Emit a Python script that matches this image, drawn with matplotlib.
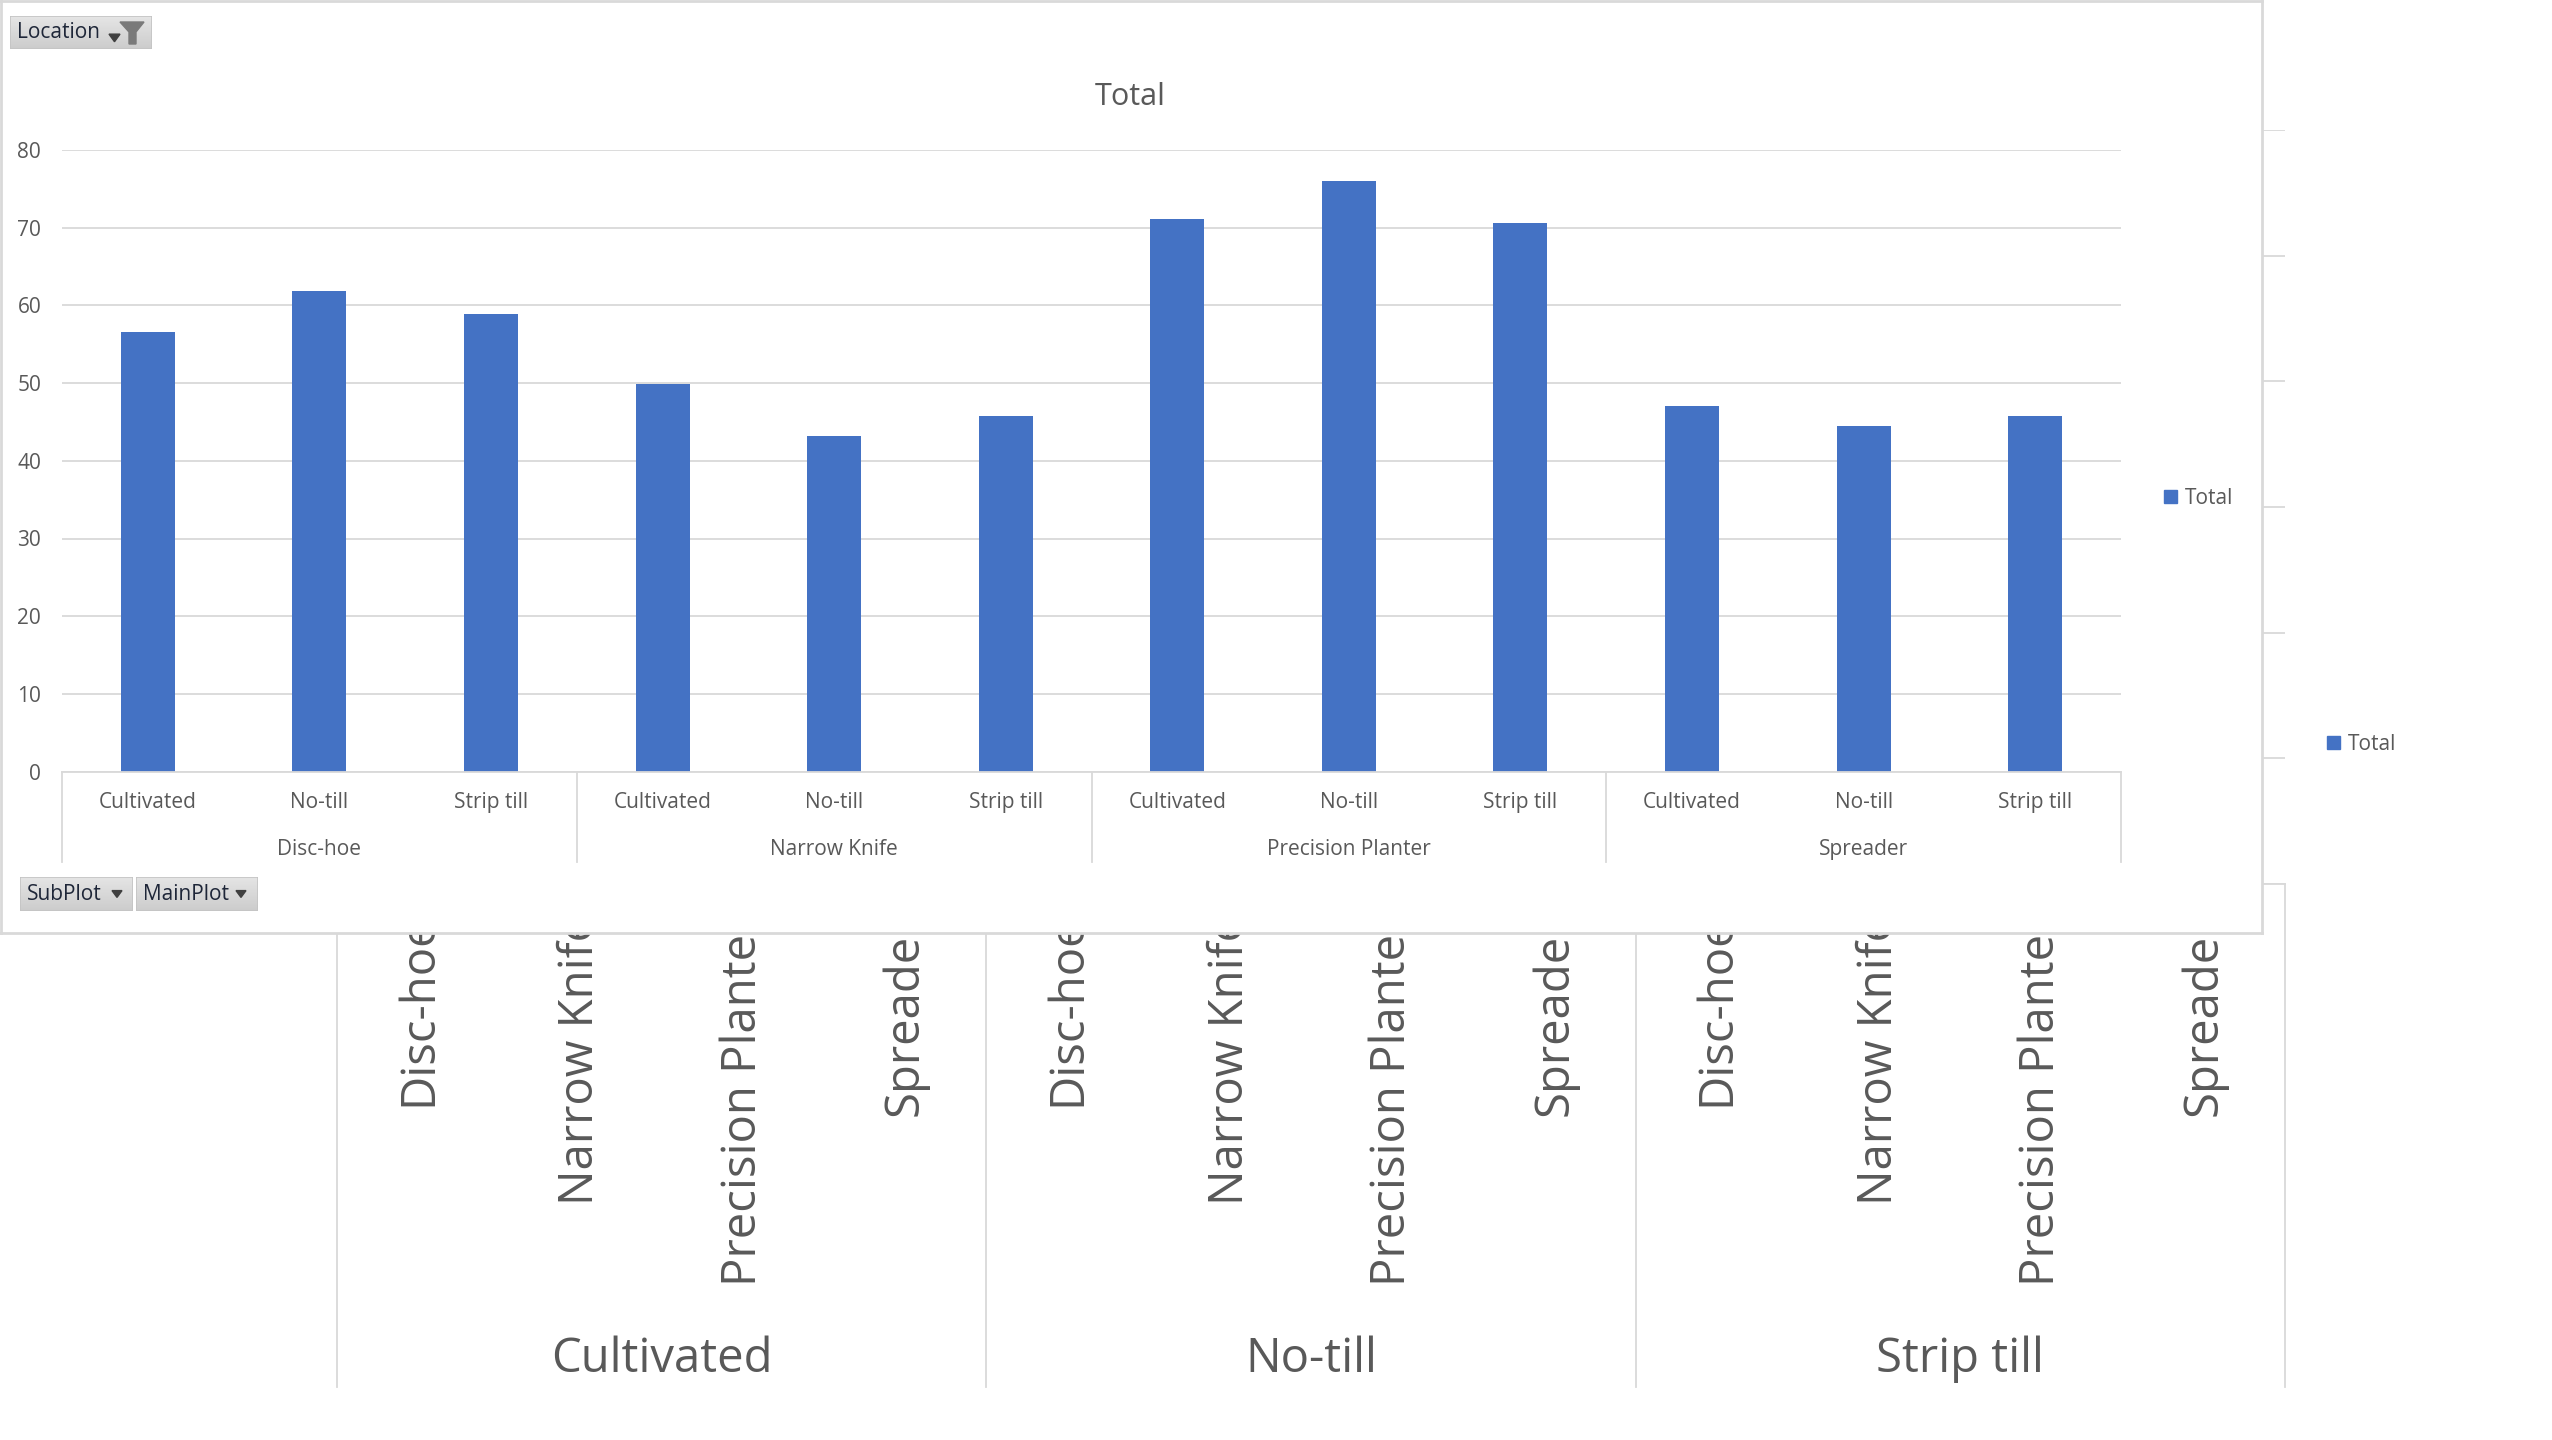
import numpy as np
import matplotlib
matplotlib.use("Agg")
import matplotlib.pyplot as plt
import matplotlib.transforms as mtransforms
from matplotlib.patches import Rectangle, Polygon, Patch
from matplotlib.lines import Line2D

plt.rcParams['font.family'] = ['Open Sans', 'DejaVu Sans']

# ---------------------------------------------------------------- data
main_plots = ["Disc-hoe", "Narrow Knife", "Precision Planter", "Spreader"]
sub_plots = ["Cultivated", "No-till", "Strip till"]

# Total per SubPlot (Cultivated, No-till, Strip till) within each MainPlot
disc_hoe = [56.6, 61.8, 58.9]
narrow_knife = [49.9, 43.2, 45.8]
precision_planter = [71.1, 76.0, 70.6]
spreader = [47.1, 44.5, 45.8]

y_ticks = [0, 10, 20, 30, 40, 50, 60, 70, 80]
series_name = "Total"

# ---------------------------------------------------------------- style
BLUE = "#4472C4"
TXT = "#595959"
GRID = "#D9D9D9"
W, H = 2552, 1440


def box(x0, y0, x1, y1):
    """Figure-fraction rectangle from pixel edges measured from the top-left."""
    return [x0 / W, 1 - y1 / H, (x1 - x0) / W, (y1 - y0) / H]


def fpt(x, y):
    return (x / W, 1 - y / H)


fig = plt.figure(figsize=(W / 100, H / 100), dpi=100)
fig.patch.set_facecolor("white")

table = np.array([disc_hoe, narrow_knife, precision_planter, spreader])

# ------------------------------------------------ chart behind (SubPlot > MainPlot)
bg = fig.add_axes(box(337, 130, 2285, 884), zorder=0)
bg_labels = [m for s in sub_plots for m in main_plots]
bg_vals = [table[mi, si] for si in range(len(sub_plots)) for mi in range(len(main_plots))]
bx = np.arange(len(bg_labels))
bg.bar(bx, bg_vals, width=0.3, color=BLUE, zorder=2)
bg.set_xlim(-0.5, len(bg_labels) - 0.5)
bg.set_ylim(0, 90)
bg.set_yticks(np.arange(0, 91, 15))
bg.yaxis.grid(True, color=GRID, linewidth=1.3)
bg.set_axisbelow(True)
bg.tick_params(left=False, bottom=False, labelleft=False, labelbottom=False)
for side in ("top", "right", "left"):
    bg.spines[side].set_visible(False)
bg.spines["bottom"].set_color(GRID)
bg.spines["bottom"].set_linewidth(1.3)
bgtr = mtransforms.blended_transform_factory(bg.transData, bg.transAxes)
for i, lab in enumerate(bg_labels):
    bg.text(i, -0.041, lab, transform=bgtr, rotation=90, ha="center", va="top",
            fontsize=34, color=TXT, clip_on=False)
n_in = len(main_plots)
for g, lab in enumerate(sub_plots):
    bg.text(g * n_in + (n_in - 1) / 2, -0.630, lab, transform=bgtr, ha="center",
            va="center", fontsize=34, color=TXT, clip_on=False)
for b in np.arange(len(sub_plots) + 1) * n_in - 0.5:
    bg.add_line(Line2D([b, b], [0, -0.667], transform=bgtr, color=GRID,
                       linewidth=1.3, clip_on=False))
bg.legend(handles=[Patch(color=BLUE, label=series_name)], loc="center left",
          bbox_to_anchor=fpt(2327, 744), bbox_transform=fig.transFigure,
          frameon=False, fontsize=15, handlelength=0.6, handleheight=0.6,
          handletextpad=0.4, labelcolor=TXT, borderpad=0, borderaxespad=0)

# ------------------------------------------------ pivot chart panel
panel = fig.add_axes(box(1, 1, 2262, 933), zorder=1)
panel.set_facecolor("white")
panel.set_xticks([])
panel.set_yticks([])
for sp in panel.spines.values():
    sp.set_color(GRID)
    sp.set_linewidth(2)

ax = fig.add_axes(box(62, 150, 2121, 771.6), zorder=2)
labels = [s for m in main_plots for s in sub_plots]
vals = table.flatten()
x = np.arange(len(labels))
ax.bar(x, vals, width=0.315, color=BLUE, zorder=2)
ax.set_xlim(-0.5, len(labels) - 0.5)
ax.set_ylim(y_ticks[0], y_ticks[-1])
ax.set_yticks(y_ticks)
ax.set_yticklabels([str(t) for t in y_ticks], fontsize=15, color=TXT)
ax.yaxis.grid(True, color=GRID, linewidth=1.3)
ax.set_axisbelow(True)
ax.tick_params(axis="y", length=0, pad=15)
ax.tick_params(axis="x", bottom=False, labelbottom=False)
ax.patch.set_alpha(0)
for side in ("top", "right", "left"):
    ax.spines[side].set_visible(False)
ax.spines["bottom"].set_color(GRID)
ax.spines["bottom"].set_linewidth(1.3)

tr = mtransforms.blended_transform_factory(ax.transData, ax.transAxes)
for i, lab in enumerate(labels):
    ax.text(i, -0.049, lab, transform=tr, ha="center", va="center",
            fontsize=15, color=TXT, clip_on=False)
n_sub = len(sub_plots)
for g, lab in enumerate(main_plots):
    ax.text(g * n_sub + (n_sub - 1) / 2, -0.125, lab, transform=tr, ha="center",
            va="center", fontsize=15, color=TXT, clip_on=False)
for b in np.arange(len(main_plots) + 1) * n_sub - 0.5:
    ax.add_line(Line2D([b, b], [0, -0.145], transform=tr, color=GRID,
                       linewidth=1.3, clip_on=False))

fig.text(*fpt(1130, 97), series_name, ha="center", va="center", fontsize=22,
         color=TXT, zorder=3)
ax.legend(handles=[Patch(color=BLUE, label=series_name)], loc="center left",
          bbox_to_anchor=fpt(2164, 498), bbox_transform=fig.transFigure,
          frameon=False, fontsize=15, handlelength=0.6, handleheight=0.6,
          handletextpad=0.4, labelcolor=TXT, borderpad=0, borderaxespad=0)


# ------------------------------------------------ field buttons
def field_button(x0, y0, x1, y1, text, arrow_x, funnel=False):
    b = fig.add_axes(box(x0, y0, x1, y1), zorder=4)
    w, h = x1 - x0, y1 - y0
    grad = np.linspace(0, 1, 64)[:, None]
    top, bot = np.array([0.90, 0.90, 0.90]), np.array([0.80, 0.80, 0.80])
    img = top + (bot - top) * grad[..., None]
    b.imshow(img, extent=(0, w, h, 0), aspect="auto", interpolation="bilinear")
    b.set_xlim(0, w)
    b.set_ylim(h, 0)
    b.axis("off")
    b.add_patch(Rectangle((0, 0), w, h, fill=False, edgecolor="#C4C4C4", linewidth=1.2))
    b.text(7, h / 2 + 0.5, text, ha="left", va="center", fontsize=15, color="#1E2638")
    if funnel:
        b.add_patch(Polygon([[arrow_x, h * 0.55], [arrow_x + 11, h * 0.55],
                             [arrow_x + 5.5, h * 0.78]], closed=True, color="#404040"))
        fx0 = arrow_x + 11
        b.add_patch(Polygon([[fx0, 6], [fx0 + 24, 6], [fx0 + 16, 16], [fx0 + 16, 28],
                             [fx0 + 9, 28], [fx0 + 9, 16]], closed=True, color="#7A7A7A"))
    else:
        b.add_patch(Polygon([[arrow_x, h * 0.40], [arrow_x + 10, h * 0.40],
                             [arrow_x + 5, h * 0.60]], closed=True, color="#404040"))


field_button(10, 16, 152, 49, "Location", 99, funnel=True)
field_button(20, 877, 133, 911, "SubPlot", 92)
field_button(136, 877, 258, 911, "MainPlot", 100)

fig.savefig("out.png", dpi=100, facecolor="white")
